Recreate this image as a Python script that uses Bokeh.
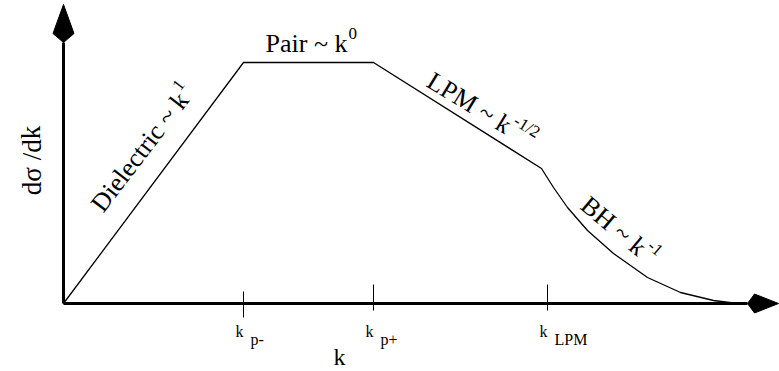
import math
from bokeh.plotting import figure
from bokeh.models import Range1d
from bokeh.core.properties import value
from bokeh.embed import file_html
from bokeh.resources import INLINE

# ---- schematic data (arbitrary units) ----
curve_k = [0, 180, 310, 478, 490, 504, 524, 550, 584, 617, 650, 674]
curve_s = [0, 241, 241, 135, 116, 96, 73, 50, 26, 11, 3, 0]
tick_k = [180, 310, 484]
tick_sub = ["p-", "p+", "LPM"]
region_names = ["Dielectric ~ k", "Pair ~ k", "LPM ~ k", "BH ~ k"]
region_exps = ["1", "0", "-1/2", "-1"]
x_label = "k"
y_label = "dσ /dk"

# ---- layout / style ----
FONT = value("Liberation Serif")
region_pos = [(33, 95), (202, 260), (366, 225), (521, 102)]
region_ang = [52.5, 0.0, -31.5, -40.0]
MAIN_PX = 26
SUP_PX = 17
tick_top = [12, 19, 19]
tick_bot = [-14, -7, -7]

TW = {' ': 250, '-': 333, '/': 278, '~': 541, 'D': 722, 'i': 278, 'e': 444,
      'l': 278, 'c': 444, 't': 278, 'r': 333, 'k': 500, 'P': 556, 'a': 444,
      'L': 611, 'M': 889, 'B': 667, 'H': 722, 'p': 500, '+': 564}


def text_width(s, px):
    return sum(TW.get(ch, 500) for ch in s) / 1000.0 * px


p = figure(width=779, height=371, output_backend="svg", toolbar_location=None,
           x_range=Range1d(-63, 716), y_range=Range1d(-68, 303),
           min_border=0, min_border_left=0, min_border_right=0,
           min_border_top=0, min_border_bottom=0)
p.axis.visible = False
p.grid.visible = False
p.outline_line_color = None
p.background_fill_color = "white"
p.border_fill_color = "white"

# axes with kite-shaped arrow heads
x_tip, x_wing, x_back, x_half = 715, 24, 31, 9.5
y_tip, y_wing, y_back, y_half = 299, 29, 38, 10.5
p.line([0, x_tip - x_back], [0, 0], line_color="black", line_width=3)
p.line([0, 0], [0, y_tip - y_back], line_color="black", line_width=3)
p.patch([x_tip, x_tip - x_wing, x_tip - x_back, x_tip - x_wing],
        [0, x_half, 0, -x_half], fill_color="black", line_color="black")
p.patch([0, y_half, 0, -y_half],
        [y_tip, y_tip - y_wing, y_tip - y_back, y_tip - y_wing],
        fill_color="black", line_color="black")

# the curve
p.line(curve_k, curve_s, line_color="black", line_width=1.3)

# ticks and their labels
p.segment(x0=tick_k, y0=tick_bot, x1=tick_k, y1=tick_top,
          line_color="black", line_width=1)
p.text(x=[t - 8 for t in tick_k], y=[-27.5] * len(tick_k), text=["k"] * len(tick_k),
       text_font=FONT, text_font_size="16px", text_align="left",
       text_baseline="alphabetic", text_color="black")
p.text(x=[t + 7 for t in tick_k], y=[-35.5] * len(tick_k), text=tick_sub,
       text_font=FONT, text_font_size="16px", text_align="left",
       text_baseline="alphabetic", text_color="black")

# axis labels
p.text(x=[270], y=[-53], text=[x_label], text_font=FONT, text_font_size="24px",
       text_align="left", text_baseline="alphabetic", text_color="black")
p.text(x=[-32], y=[143], text=[y_label], angle=[math.pi / 2], text_font=FONT,
       text_font_size="27px", text_align="center", text_baseline="alphabetic",
       text_color="black")

# region labels with superscripts
for name, exp, (sx, sy), ang in zip(region_names, region_exps, region_pos, region_ang):
    a = math.radians(ang)
    ca, sa = math.cos(a), math.sin(a)
    p.text(x=[sx], y=[sy], text=[name], angle=[a], text_font=FONT,
           text_font_size=f"{MAIN_PX}px", text_align="left",
           text_baseline="alphabetic", text_color="black")
    w = text_width(name, MAIN_PX) + 1
    raise_ = 10
    ex = sx + w * ca - raise_ * sa
    ey = sy + w * sa + raise_ * ca
    p.text(x=[ex], y=[ey], text=[exp], angle=[a], text_font=FONT,
           text_font_size=f"{SUP_PX}px", text_align="left",
           text_baseline="alphabetic", text_color="black")

open("out.html", "w").write(file_html(p, INLINE))
